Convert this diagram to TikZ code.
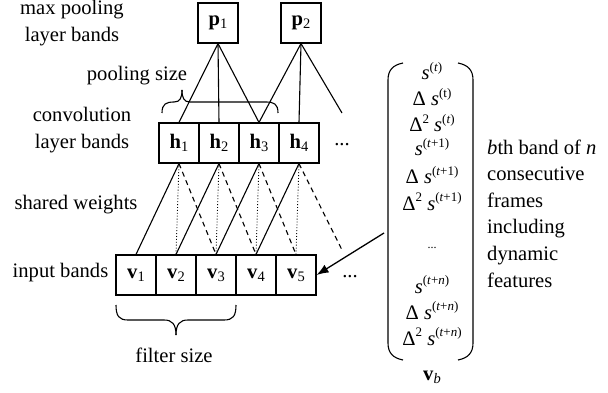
\documentclass[tikz,border=0pt]{standalone}
\usepackage{fontspec}
\setmainfont{Liberation Serif}
\usetikzlibrary{arrows.meta}
\newcommand\bsub[2]{\textbf{#1}\raisebox{-0.3ex}{\fontsize{14.5}{14.5}\selectfont #2}}
\newcommand\sps[1]{\raisebox{0.85ex}{\fontsize{13}{13}\selectfont #1}}
\begin{document}
\begin{tikzpicture}[x=1pt,y=-1pt,
  every node/.style={font=\fontsize{20.6}{24}\selectfont},
  band/.style={draw,line width=1.1pt,minimum width=40pt,minimum height=40pt,inner sep=0pt},
  lbl/.style={align=center,inner sep=0pt,font=\fontsize{20.6}{27}\selectfont},
  ment/.style={anchor=base,inner sep=0pt},
  conn/.style={line width=1.1pt},
  wsolid/.style={line width=1.1pt},
  wdot/.style={line width=0.9pt,dotted},
  wdash/.style={line width=1.1pt,dash pattern=on 5pt off 4pt},
  brace/.style={line width=1.1pt}]
\useasboundingbox (0,0) rectangle (608,393);
% pooling layer
\node[band] (p1) at (218,23) {\bsub{p}{1}};
\node[band] (p2) at (301,23) {\bsub{p}{2}};
% convolution layer
\node[band] (h1) at (179,143) {\bsub{h}{1}};
\node[band] (h2) at (219,143) {\bsub{h}{2}};
\node[band] (h3) at (259,143) {\bsub{h}{3}};
\node[band] (h4) at (299,143) {\bsub{h}{4}};
\node[inner sep=0pt] (hdots) at (342,145) {...};
% input layer
\node[band] (v1) at (136,275) {\bsub{v}{1}};
\node[band] (v2) at (176,275) {\bsub{v}{2}};
\node[band] (v3) at (216,275) {\bsub{v}{3}};
\node[band] (v4) at (256,275) {\bsub{v}{4}};
\node[band] (v5) at (296,275) {\bsub{v}{5}};
\node[inner sep=0pt] (vdots) at (350,277) {...};
% pooling connections
\coordinate (p2out) at (342,113);
\draw[conn] (p1.south) -- (h1.north);
\draw[conn] (p1.south) -- (h2.north);
\draw[conn] (p1.south) -- (h3.north);
\draw[conn] (p2.south) -- (h3.north);
\draw[conn] (p2.south) -- (h4.north);
\draw[conn] (p2.south) -- (p2out);
% shared weights
\coordinate (h4out) at (342,250);
\draw[wsolid] (h1.south) -- (v1.north);
\draw[wdot] (h1.south) -- (v2.north);
\draw[wdash] (h1.south) -- (v3.north);
\draw[wsolid] (h2.south) -- (v2.north);
\draw[wdot] (h2.south) -- (v3.north);
\draw[wdash] (h2.south) -- (v4.north);
\draw[wsolid] (h3.south) -- (v3.north);
\draw[wdot] (h3.south) -- (v4.north);
\draw[wdash] (h3.south) -- (v5.north);
\draw[wsolid] (h4.south) -- (v4.north);
\draw[wdot] (h4.south) -- (v5.north);
\draw[wdash] (h4.south) -- (h4out);
% braces
\draw[brace] (162,113) .. controls (162,104) and (166,102) .. (174,102)
  .. controls (180,102) and (182,98) .. (182,90);
\draw[brace] (182,90) .. controls (182,98) and (184,102) .. (190,102)
  -- (266,102) .. controls (274,102) and (278,104) .. (278,113);
\draw[brace] (116,305) .. controls (116,316) and (119,320) .. (128,320)
  -- (164,320) .. controls (172,320) and (176,324) .. (176,335);
\draw[brace] (176,335) .. controls (176,324) and (180,320) .. (188,320)
  -- (224,320) .. controls (233,320) and (236,316) .. (236,305);
% labels
\node[lbl] (lmax) at (72,23.5) {max pooling\\layer bands};
\node[lbl] (lpool) at (137,76) {pooling size};
\node[lbl] (lconv) at (82,130.5) {convolution\\layer bands};
\node[lbl] (lshared) at (76,205) {shared weights};
\node[lbl] (linput) at (60.5,273) {input bands};
\node[lbl] (lfilter) at (174,355) {filter size};
% vector
\draw[brace] (403,63) .. controls (393,65) and (388,70) .. (388,80) -- (388,343)
  .. controls (388,353) and (393,358) .. (403,360);
\draw[brace] (458,63) .. controls (468,65) and (473,70) .. (473,80) -- (473,343)
  .. controls (473,353) and (468,358) .. (458,360);
\node[ment] (m1) at (432,80) {\textit{s}\sps{(\textit{t})}};
\node[ment] (m2) at (432,106) {Δ \textit{s}\sps{(t)}};
\node[ment] (m3) at (432,132) {Δ\sps{2} \textit{s}\sps{(\textit{t})}};
\node[ment] (m4) at (432,156) {\textit{s}\sps{(\textit{t}+1)}};
\node[ment] (m5) at (432,184) {Δ \textit{s}\sps{(\textit{t}+1)}};
\node[ment] (m6) at (432,210) {Δ\sps{2} \textit{s}\sps{(\textit{t}+1)}};
\node[ment,font=\fontsize{12}{12}\selectfont] (m7) at (432,248) {...};
\node[ment] (m8) at (432,293) {\textit{s}\sps{(\textit{t}+\textit{n})}};
\node[ment] (m9) at (432,319) {Δ \textit{s}\sps{(\textit{t}+\textit{n})}};
\node[ment] (m10) at (432,345) {Δ\sps{2} \textit{s}\sps{(\textit{t}+\textit{n})}};
\node[inner sep=0pt] (vb) at (432,377) {\textbf{v}\raisebox{-0.3ex}{\fontsize{14.5}{14.5}\selectfont\textit{b}}};
\node[align=left,anchor=west,inner sep=0pt,font=\fontsize{20.6}{26.6}\selectfont] (ldesc) at (487,213.5)
  {\textit{b}th band of \textit{n}\\consecutive\\frames\\including\\dynamic\\features};
% arrow
\coordinate (arrstart) at (384,233);
\draw[line width=1.3pt,-{Latex[length=12pt,width=9pt]}] (arrstart) -- (v5.east);
\end{tikzpicture}
\end{document}
